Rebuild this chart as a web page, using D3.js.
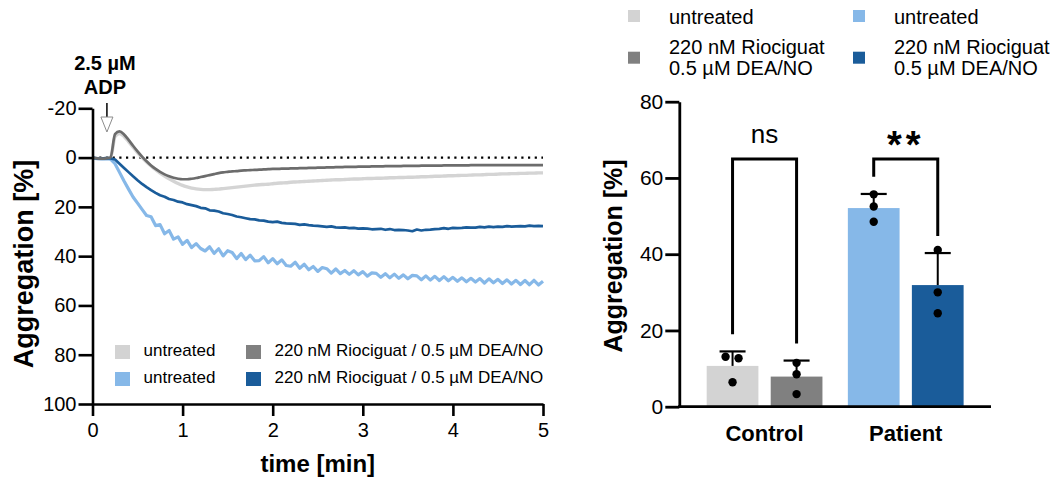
<!DOCTYPE html>
<html><head><meta charset="utf-8">
<script src="https://cdn.jsdelivr.net/npm/d3@7"></script>
<style>
html,body{margin:0;padding:0;background:#fff;}
svg{display:block;font-family:"Liberation Sans",Arial,sans-serif;}
</style></head>
<body>
<svg id="chart" width="1062" height="482"></svg>
<script>
// ---------- DATA ----------
const timeStep = 0.05; // min, sampling of traces (0 .. 5 min)
const xTicksL = [0,1,2,3,4,5];
const yTicksL = [-20,0,20,40,60,80,100];
const yTicksR = [0,20,40,60,80];

const ctrlUntreated = [0,0.3,0.5,0.4,0.2,-8.5,-9.8,-8.6,-6.5,-4.2,-2.0,0.0,1.8,3.4,4.9,6.3,7.5,8.6,9.6,10.5,11.3,11.9,12.4,12.7,12.9,13.0,13.0,12.9,12.8,12.6,12.4,12.2,12.0,11.8,11.6,11.4,11.2,11.0,10.9,10.8,10.6,10.4,10.3,10.2,10.0,9.9,9.8,9.7,9.6,9.5,9.4,9.3,9.2,9.1,9.0,9.0,8.9,8.8,8.7,8.7,8.6,8.5,8.5,8.4,8.4,8.3,8.2,8.2,8.1,8.1,8.0,8.0,7.9,7.8,7.8,7.7,7.6,7.6,7.5,7.4,7.4,7.3,7.2,7.2,7.1,7.0,7.0,6.9,6.8,6.8,6.7,6.6,6.6,6.5,6.5,6.4,6.4,6.3,6.3,6.2,6.2];
const ctrlTreated = [0,0.3,0.4,0.3,0.0,-9.5,-10.6,-9.4,-7.2,-4.8,-2.5,-0.4,1.5,3.2,4.6,5.8,6.8,7.6,8.2,8.6,8.8,8.8,8.6,8.3,7.9,7.5,7.1,6.7,6.3,6.0,5.8,5.6,5.5,5.3,5.2,5.1,5.0,4.9,4.8,4.7,4.6,4.6,4.5,4.5,4.4,4.4,4.3,4.3,4.2,4.2,4.1,4.1,4.0,4.0,3.9,3.9,3.8,3.8,3.8,3.7,3.7,3.7,3.6,3.6,3.6,3.5,3.5,3.5,3.5,3.4,3.4,3.4,3.4,3.3,3.3,3.3,3.3,3.3,3.2,3.2,3.2,3.2,3.2,3.2,3.1,3.1,3.1,3.1,3.1,3.1,3.1,3.1,3.1,3.1,3.1,3.1,3.1,3.1,3.1,3.1,3.1];
const patUntreated = [0.2,0.4,0.5,0.4,0.6,2.5,6.0,9.5,12.8,16.0,18.5,21.0,23.5,24.0,27.6,27.2,30.9,29.6,33.1,32.2,35.2,33.6,36.5,34.9,36.9,37.9,36.2,38.9,37.0,39.9,37.8,38.5,41.0,38.9,41.4,39.6,41.9,41.8,40.2,42.7,41.0,43.1,41.5,43.8,44.1,42.5,44.9,43.3,45.5,44.2,46.2,44.6,45.1,46.9,45.2,47.1,45.8,47.4,45.9,47.6,46.3,48.1,46.8,47.0,48.6,47.1,48.8,47.3,49.0,47.6,49.2,47.8,48.0,49.6,48.0,49.7,48.2,49.9,48.3,50.0,48.6,50.2,48.8,50.4,49.0,50.5,49.1,50.9,49.2,50.8,49.4,51.1,49.6,51.3,49.8,51.5,49.9,51.6,49.8,51.7,50.2];
const patTreated = [0.1,0.3,0.4,0.2,0.3,0.8,2.5,4.2,5.9,7.6,9.2,10.7,12.0,13.2,14.3,15.3,15.9,16.8,17.2,17.9,18.2,18.9,19.3,19.7,20.4,20.6,21.4,21.5,21.9,22.6,22.9,23.3,23.9,24.2,24.6,25.0,25.1,25.5,25.6,26.0,26.2,26.0,26.5,26.7,26.8,26.9,27.3,27.1,27.4,27.6,27.7,27.9,28.1,27.9,28.3,28.4,28.3,28.6,28.5,28.8,28.7,28.8,29.1,29.0,28.9,29.3,29.0,29.4,29.3,29.4,29.6,29.9,29.2,29.6,29.3,29.2,29.0,28.9,28.6,28.9,28.5,28.6,28.5,28.3,28.4,28.4,28.1,28.3,28.0,28.2,28.0,28.1,27.8,28.0,27.9,27.8,27.9,27.6,27.8,27.7,27.8];

const adpTime = 0.16; // min, ADP addition

const groups = ["Control","Patient"];
const treatments = ["untreated","220 nM Riociguat / 0.5 µM DEA/NO"];
const barMeans = [[10.7, 7.9],[52.1, 31.9]];
const barSD    = [[3.8, 4.2],[3.7, 8.4]];
const barPoints = [[[13.1,12.7,6.4],[11.5,8.5,3.3]],[[55.7,52.5,48.5],[41.1,30.0,24.5]]];
const sigLabels = ["ns","**"];

// ---------- STYLE ----------
const colLightGrey = "#d3d3d3", colDarkGrey = "#808080", colLightBlue = "#86b8e8", colDarkBlue = "#1a5c9a";
const lineCols = {ctrlUntreated:"#d4d4d4", ctrlTreated:"#6c6c6c", patUntreated:"#86b8e8", patTreated:"#1a5c9a"};
const barCols = [[colLightGrey, colDarkGrey],[colLightBlue, colDarkBlue]];

const svg = d3.select("#chart");
const FONT = '"Liberation Sans",Arial,sans-serif';

// ================= LEFT: traces =================
const xL = d3.scaleLinear().domain([0,5]).range([92.5,543]);
const yL = d3.scaleLinear().domain([-20,100]).range([108.3,404]);
const time = d3.range(ctrlUntreated.length).map(i => +(i*timeStep).toFixed(2));

const gL = svg.append("g");

// dotted zero line
gL.append("line").attr("x1",xL(0)).attr("x2",xL(5)).attr("y1",yL(0)).attr("y2",yL(0))
  .attr("stroke","#000").attr("stroke-width",2.2).attr("stroke-dasharray","2.2,4.5");

const lineSmooth = d3.line().x((d,i)=>xL(time[i])).y(d=>yL(d)).curve(d3.curveMonotoneX);
const lineRaw = d3.line().x((d,i)=>xL(time[i])).y(d=>yL(d)).curve(d3.curveLinear);
[["ctrlUntreated",ctrlUntreated,3.4,lineSmooth],["patUntreated",patUntreated,3.2,lineRaw],["patTreated",patTreated,2.7,lineRaw],["ctrlTreated",ctrlTreated,2.7,lineSmooth]]
 .forEach(([k,arr,w,gen]) => {
   gL.append("path").datum(arr).attr("d",gen).attr("fill","none")
     .attr("stroke",lineCols[k]).attr("stroke-width",w).attr("stroke-linejoin","round");
 });

// axes
const axL = gL.append("g").attr("transform",`translate(${xL(0)},0)`)
  .call(d3.axisLeft(yL).tickValues(yTicksL).tickFormat(d=>String(d)).tickSize(14).tickSizeOuter(0).tickPadding(2));
const axB = gL.append("g").attr("transform",`translate(0,${yL(100)})`)
  .call(d3.axisBottom(xL).tickValues(xTicksL).tickFormat(d=>String(d)).tickSize(12).tickSizeOuter(0).tickPadding(7));
[axL,axB].forEach(a=>{
  a.selectAll("path,line").attr("stroke","#000").attr("stroke-width",2.6);
  a.selectAll("text").attr("font-family",FONT).attr("font-size",20).attr("fill","#000");
});

gL.append("text").attr("transform",`translate(33,264) rotate(-90)`).attr("text-anchor","middle")
  .attr("font-family",FONT).attr("font-weight","bold").attr("font-size",27).text("Aggregation [%]");
gL.append("text").attr("x",(xL(0)+xL(5))/2).attr("y",472).attr("text-anchor","middle")
  .attr("font-family",FONT).attr("font-weight","bold").attr("font-size",24).text("time [min]");

// ADP annotation
const ax = xL(adpTime);
gL.append("text").attr("x",ax-2).attr("y",70).attr("text-anchor","middle").attr("font-family",FONT)
  .attr("font-weight","bold").attr("font-size",20).text("2.5 µM");
gL.append("text").attr("x",ax-2).attr("y",94).attr("text-anchor","middle").attr("font-family",FONT)
  .attr("font-weight","bold").attr("font-size",20).text("ADP");
gL.append("line").attr("x1",ax).attr("x2",ax).attr("y1",103).attr("y2",118).attr("stroke","#000").attr("stroke-width",1.5);
gL.append("path").attr("d",`M${ax-6},117 L${ax+6},117 L${ax},132 Z`).attr("fill","#fff").attr("stroke","#8c8c8c").attr("stroke-width",1);

// left legend
const legL = [
  {c:colLightGrey, t:"untreated", x:115, y:345},
  {c:colDarkGrey, t:treatments[1], x:246, y:345},
  {c:colLightBlue, t:"untreated", x:115, y:372},
  {c:colDarkBlue, t:treatments[1], x:246, y:372}
];
legL.forEach(d=>{
  gL.append("rect").attr("x",d.x).attr("y",d.y).attr("width",15).attr("height",14).attr("fill",d.c);
  gL.append("text").attr("x",d.x+28.5).attr("y",d.y+10.5).attr("font-family",FONT).attr("font-size",17).text(d.t);
});

// ================= RIGHT: bars =================
const gR = svg.append("g");
const x0 = d3.scaleBand().domain(groups).range([679.3,991]).paddingInner(0.18).paddingOuter(0.194);
const x1 = d3.scaleBand().domain([0,1]).range([0,x0.bandwidth()]).paddingInner(0.192).paddingOuter(0);
const yR = d3.scaleLinear().domain([0,80]).range([406.7,101.7]);

groups.forEach((g,gi)=>{
  [0,1].forEach(ti=>{
    const bx = x0(g)+x1(ti), bw = x1.bandwidth(), cx = bx+bw/2;
    const m = barMeans[gi][ti], sd = barSD[gi][ti];
    gR.append("rect").attr("x",bx).attr("y",yR(m)).attr("width",bw).attr("height",yR(0)-yR(m)).attr("fill",barCols[gi][ti]);
    gR.append("line").attr("x1",cx).attr("x2",cx).attr("y1",yR(m)).attr("y2",yR(m+sd)).attr("stroke","#000").attr("stroke-width",2);
    gR.append("line").attr("x1",cx-13).attr("x2",cx+13).attr("y1",yR(m+sd)).attr("y2",yR(m+sd)).attr("stroke","#000").attr("stroke-width",2.2);
    const pts = barPoints[gi][ti];
    const jit = (gi===0&&ti===0) ? [-7,6,0] : [0,0,0];
    pts.forEach((v,k)=>{
      gR.append("circle").attr("cx",cx+jit[k]).attr("cy",yR(v)).attr("r",4.2).attr("fill","#000");
    });
  });
  // significance bracket
  const cA = x0(g)+x1(0)+x1.bandwidth()/2, cB = x0(g)+x1(1)+x1.bandwidth()/2;
  const topA = barMeans[gi][0]+barSD[gi][0]+4.5, topB = barMeans[gi][1]+barSD[gi][1]+4.5;
  const by = yR(65);
  gR.append("path").attr("d",`M${cA},${yR(topA)} L${cA},${by} L${cB},${by} L${cB},${yR(topB)}`)
    .attr("fill","none").attr("stroke","#000").attr("stroke-width",3).attr("stroke-linejoin","miter");
  const mx = (cA+cB)/2;
  if (sigLabels[gi]==="ns") {
    gR.append("text").attr("x",mx).attr("y",142.7).attr("text-anchor","middle").attr("font-family",FONT)
      .attr("font-size",26).text(sigLabels[gi]);
  } else {
    gR.append("text").attr("x",mx).attr("y",158).attr("text-anchor","middle").attr("font-family",FONT)
      .attr("font-weight","bold").attr("font-size",38).attr("letter-spacing",4).text(sigLabels[gi]);
  }
  gR.append("text").attr("x",x0(g)+x0.bandwidth()/2).attr("y",441).attr("text-anchor","middle")
    .attr("font-family",FONT).attr("font-weight","bold").attr("font-size",22).text(g);
});

// right axes
const axR = gR.append("g").attr("transform",`translate(679.3,0)`)
  .call(d3.axisLeft(yR).tickValues(yTicksR).tickFormat(d=>String(d)).tickSize(14).tickSizeOuter(0).tickPadding(2));
axR.selectAll("path,line").attr("stroke","#000").attr("stroke-width",2.8);
axR.selectAll("text").attr("font-family",FONT).attr("font-size",21).attr("fill","#000");
gR.append("line").attr("x1",678).attr("x2",991).attr("y1",yR(0)).attr("y2",yR(0)).attr("stroke","#000").attr("stroke-width",2.8);

gR.append("text").attr("transform",`translate(622,256) rotate(-90)`).attr("text-anchor","middle")
  .attr("font-family",FONT).attr("font-weight","bold").attr("font-size",25).text("Aggregation [%]");

// right legend
const legR = [
  {c:colLightGrey, lines:["untreated"], x:628, y:10},
  {c:colLightBlue, lines:["untreated"], x:853, y:10},
  {c:colDarkGrey, lines:["220 nM Riociguat","0.5 µM DEA/NO"], x:628, y:51.7},
  {c:colDarkBlue, lines:["220 nM Riociguat","0.5 µM DEA/NO"], x:853, y:51.7}
];
legR.forEach(d=>{
  gR.append("rect").attr("x",d.x).attr("y",d.y).attr("width",12).attr("height",12).attr("fill",d.c);
  if (d.lines.length===1) {
    gR.append("text").attr("x",d.x+41).attr("y",24).attr("font-family",FONT).attr("font-size",20).text(d.lines[0]);
  } else {
    gR.append("text").attr("x",d.x+41).attr("y",54).attr("font-family",FONT).attr("font-size",20).text(d.lines[0]);
    gR.append("text").attr("x",d.x+41).attr("y",75).attr("font-family",FONT).attr("font-size",20).text(d.lines[1]);
  }
});
</script>
</body></html>
